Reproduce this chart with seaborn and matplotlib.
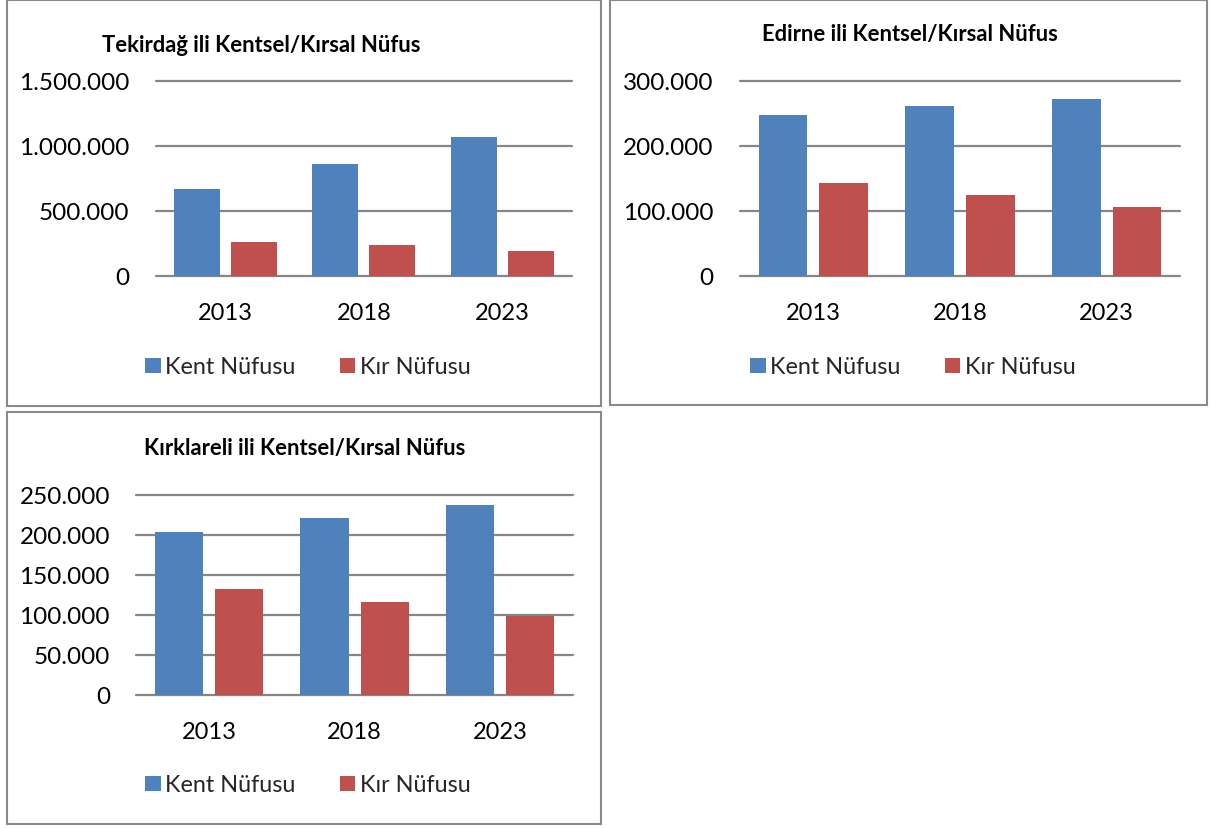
import pandas as pd
import seaborn as sns
import matplotlib.pyplot as plt
from matplotlib.patches import Rectangle
from matplotlib.ticker import FuncFormatter

# Veriler (grafikten okunan yaklaşık değerler)
years = ["2013", "2018", "2023"]
series_names = ["Kent Nüfusu", "Kır Nüfusu"]

tekirdag_kent = [667000, 859000, 1072000]
tekirdag_kir = [259000, 236000, 188000]

edirne_kent = [248000, 261000, 272000]
edirne_kir = [143000, 124000, 106000]

kirklareli_kent = [204000, 221000, 237000]
kirklareli_kir = [132000, 115500, 99000]

titles = [
    "Tekirdağ ili Kentsel/Kırsal Nüfus",
    "Edirne ili Kentsel/Kırsal Nüfus",
    "Kırklareli ili Kentsel/Kırsal Nüfus",
]
yticks = [
    [0, 500000, 1000000, 1500000],
    [0, 100000, 200000, 300000],
    [0, 50000, 100000, 150000, 200000, 250000],
]

W, H = 1212, 829
BLUE, RED = "#4F81BD", "#C0504D"
GRID = "#868686"

sns.set_theme(style="white")
plt.rcParams["font.family"] = ["Lato", "DejaVu Sans"]

fig = plt.figure(figsize=(W / 100, H / 100), dpi=100)
fig.patch.set_facecolor("white")


def px_box(x0, y0, x1, y1):
    # piksel koordinatlarını figür oranına çevir
    return [x0 / W, 1 - y1 / H, (x1 - x0) / W, (y1 - y0) / H]


# çerçeveler
frames = [(6.5, 1, 600.5, 407), (609.5, 1, 1207, 406), (6.5, 413, 601, 825)]
for fx0, fy0, fx1, fy1 in frames:
    l, b, w, h = px_box(fx0, fy0, fx1, fy1)
    fig.add_artist(Rectangle((l, b), w, h, transform=fig.transFigure,
                             fill=False, ec="#8a8a8a", lw=1.5))

# eksen alanları, başlık ve lejant konumları (piksel)
axes_px = [(156, 82, 571.7, 276.7), (740, 81.7, 1180, 276.7), (136.4, 496, 572.9, 695.7)]
title_px = [(261.5, 45), (909.5, 35), (304.5, 449)]
legend_px = [(308, 368), (913, 368), (308, 786)]

data = [
    (tekirdag_kent, tekirdag_kir),
    (edirne_kent, edirne_kir),
    (kirklareli_kent, kirklareli_kir),
]

fmt = FuncFormatter(lambda v, p: f"{v:,.0f}".replace(",", "."))

for i, (kent, kir) in enumerate(data):
    df = pd.DataFrame({
        "Yıl": years * 2,
        "Seri": [series_names[0]] * 3 + [series_names[1]] * 3,
        "Nüfus": kent + kir,
    })
    ax = fig.add_axes(px_box(*axes_px[i]))
    sns.barplot(data=df, x="Yıl", y="Nüfus", hue="Seri", ax=ax,
                palette=[BLUE, RED], width=0.825, gap=0.195,
                saturation=1, linewidth=0, zorder=3)
    for y in yticks[i]:
        ax.axhline(y, color=GRID, lw=1.6, clip_on=False, zorder=1)
    ax.set_ylim(0, yticks[i][-1])
    ax.set_xlim(-0.5, 2.5)
    ax.set_yticks(yticks[i])
    ax.yaxis.set_major_formatter(fmt)
    ax.tick_params(axis="y", length=0, pad=19, labelsize=17.5, colors="black")
    ax.tick_params(axis="x", length=0, pad=19, labelsize=17, colors="black")
    ax.set_xlabel("")
    ax.set_ylabel("")
    for s in ax.spines.values():
        s.set_visible(False)
    ax.set_facecolor("none")

    lx, ly = legend_px[i]
    sns.move_legend(ax, "center", bbox_to_anchor=(lx / W, 1 - ly / H),
                    bbox_transform=fig.transFigure, ncol=2, frameon=False,
                    title=None, fontsize=16.8, handlelength=0.65,
                    handleheight=0.65, handletextpad=0.2, columnspacing=1.9)

    tx, ty = title_px[i]
    fig.text(tx / W, 1 - ty / H, titles[i], ha="center", va="center",
             fontsize=15.8, fontweight="bold", color="black")

fig.savefig("out.png", dpi=100, facecolor="white")
